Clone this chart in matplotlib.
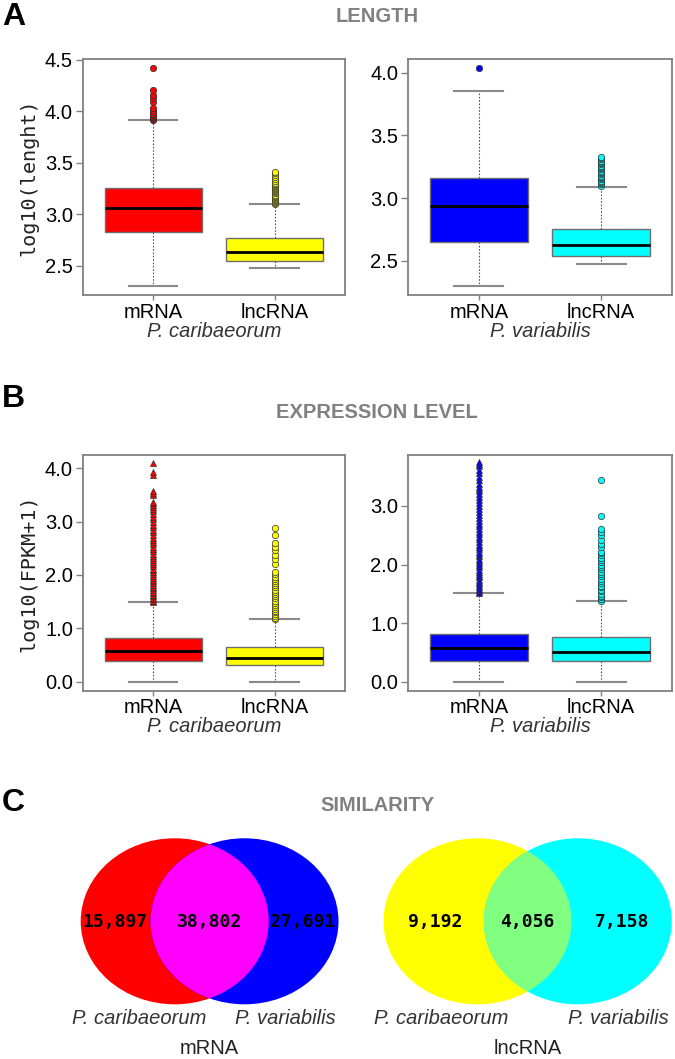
import matplotlib
matplotlib.use('Agg')
import matplotlib.pyplot as plt
from matplotlib.patches import Ellipse
from matplotlib.ticker import FormatStrFormatter, FixedLocator

plt.rcParams['font.family'] = ['Liberation Sans', 'DejaVu Sans']

# ---------------- data ----------------
categories = ['mRNA', 'lncRNA']
species = ['P. caribaeorum', 'P. variabilis']

# LENGTH  (log10 length)  [mRNA, lncRNA]
len_pc_whislo = [2.30, 2.48]
len_pc_q1 = [2.823, 2.542]
len_pc_med = [3.056, 2.636]
len_pc_q3 = [3.255, 2.765]
len_pc_whishi = [3.91, 3.097]
len_pc_mrna_fliers = [3.91, 3.92, 3.93, 3.94, 3.95, 3.96, 3.97, 3.99, 4.01, 4.03,
                      4.09, 4.13, 4.16, 4.20, 4.42]
len_pc_lnc_fliers = [3.10, 3.11, 3.12, 3.13, 3.14, 3.15, 3.16, 3.17, 3.18, 3.19,
                     3.20, 3.21, 3.22, 3.23, 3.24, 3.25, 3.26, 3.27, 3.28, 3.29,
                     3.30, 3.32, 3.34, 3.36, 3.38, 3.40, 3.41]

len_pv_whislo = [2.30, 2.476]
len_pv_q1 = [2.654, 2.537]
len_pv_med = [2.938, 2.627]
len_pv_q3 = [3.158, 2.757]
len_pv_whishi = [3.856, 3.092]
len_pv_mrna_fliers = [4.037]
len_pv_lnc_fliers = [3.10, 3.11, 3.12, 3.13, 3.14, 3.15, 3.16, 3.17, 3.18, 3.19,
                     3.20, 3.21, 3.22, 3.23, 3.24, 3.25, 3.26, 3.27, 3.28, 3.29,
                     3.30, 3.31, 3.32, 3.33]

# EXPRESSION LEVEL  (log10(FPKM+1))
exp_pc_whislo = [0.0, 0.0]
exp_pc_q1 = [0.387, 0.306]
exp_pc_med = [0.579, 0.437]
exp_pc_q3 = [0.822, 0.654]
exp_pc_whishi = [1.495, 1.172]
exp_pc_mrna_fliers = [1.50, 1.52, 1.55, 1.57, 1.60, 1.63, 1.66, 1.69, 1.72, 1.75,
                      1.78, 1.81, 1.85, 1.88, 1.91, 1.95, 1.98, 2.02, 2.05, 2.09,
                      2.12, 2.16, 2.20, 2.24, 2.28, 2.32, 2.36, 2.40, 2.44, 2.48,
                      2.52, 2.57, 2.61, 2.66, 2.70, 2.75, 2.80, 2.85, 2.89, 2.94,
                      2.99, 3.04, 3.09, 3.14, 3.19, 3.23, 3.27, 3.31, 3.35, 3.37,
                      3.50, 3.54, 3.57, 3.87, 3.92, 4.09]
exp_pc_lnc_fliers = [1.17, 1.20, 1.23, 1.26, 1.30, 1.33, 1.37, 1.40, 1.44, 1.48,
                     1.52, 1.56, 1.60, 1.64, 1.68, 1.72, 1.77, 1.81, 1.85, 1.89,
                     1.93, 1.97, 2.01, 2.05, 2.21, 2.29, 2.37, 2.46, 2.52, 2.60,
                     2.75, 2.87]

exp_pv_whislo = [0.0, 0.0]
exp_pv_q1 = [0.358, 0.358]
exp_pv_med = [0.570, 0.512]
exp_pv_q3 = [0.814, 0.763]
exp_pv_whishi = [1.508, 1.382]
exp_pv_mrna_fliers = [1.51, 1.53, 1.56, 1.59, 1.62, 1.65, 1.68, 1.71, 1.74, 1.78,
                      1.81, 1.84, 1.88, 1.91, 1.95, 1.99, 2.02, 2.06, 2.10, 2.14,
                      2.18, 2.22, 2.26, 2.30, 2.34, 2.38, 2.43, 2.47, 2.52, 2.56,
                      2.61, 2.65, 2.70, 2.75, 2.80, 2.85, 2.90, 2.95, 3.00, 3.05,
                      3.10, 3.15, 3.20, 3.25, 3.29, 3.33, 3.38, 3.44, 3.50, 3.56,
                      3.62, 3.68, 3.72, 3.75]
exp_pv_lnc_fliers = [1.38, 1.41, 1.44, 1.47, 1.50, 1.54, 1.57, 1.61, 1.64, 1.68,
                     1.72, 1.76, 1.80, 1.84, 1.88, 1.92, 1.96, 2.00, 2.04, 2.08,
                     2.12, 2.16, 2.19, 2.21, 2.30, 2.35, 2.42, 2.50, 2.55, 2.61,
                     2.83, 3.45]

# SIMILARITY (Venn counts) [only sp1, shared, only sp2]
venn_mrna = [15897, 38802, 27691]
venn_lnc = [9192, 4056, 7158]

# y ticks
len_pc_yticks = [2.5, 3.0, 3.5, 4.0, 4.5]
len_pv_yticks = [2.5, 3.0, 3.5, 4.0]
exp_pc_yticks = [0.0, 1.0, 2.0, 3.0, 4.0]
exp_pv_yticks = [0.0, 1.0, 2.0, 3.0]

# ---------------- styling ----------------
W, H = 675, 1059
fig = plt.figure(figsize=(W / 100, H / 100), dpi=100)

mono = ['DejaVu Sans Mono']
GRAY = '#808080'
FS = 14.5


def px_axes(x0, y0, x1, y1):
    return fig.add_axes([x0 / W, 1 - y1 / H, (x1 - x0) / W, (y1 - y0) / H])


def boxpanel(ax, whislo, q1, med, q3, whishi, fliers, fills, markers, yticks, xlab, ylab=None):
    stats = []
    for i in range(2):
        stats.append(dict(whislo=whislo[i], q1=q1[i], med=med[i], q3=q3[i],
                          whishi=whishi[i], fliers=fliers[i]))
    bp = ax.bxp(stats, positions=[1, 2], widths=0.8, capwidths=0.4, patch_artist=True,
                boxprops=dict(edgecolor='#6e6e6e', linewidth=1.0),
                whiskerprops=dict(color='#555555', linewidth=0.8, linestyle=(0, (1.5, 1.5))),
                capprops=dict(color='#8a8a8a', linewidth=1.5),
                medianprops=dict(color='black', linewidth=2.0),
                flierprops=dict(marker='o'))
    for patch, c in zip(bp['boxes'], fills):
        patch.set_facecolor(c)
    for fl, c, m in zip(bp['fliers'], fills, markers):
        fl.set_marker(m)
        fl.set_markerfacecolor(c)
        fl.set_markeredgecolor('#303030')
        fl.set_markeredgewidth(0.5)
        fl.set_markersize(4.6)
    ax.set_xlim(0.42, 2.58)
    ax.yaxis.set_major_locator(FixedLocator(yticks))
    ax.yaxis.set_major_formatter(FormatStrFormatter('%.1f'))
    ax.set_xticks([1, 2])
    ax.set_xticklabels(categories)
    ax.tick_params(axis='both', labelsize=FS, color=GRAY, length=5, width=1.0, pad=2)
    ax.tick_params(axis='x', length=3.5, pad=2)
    for s in ax.spines.values():
        s.set_color(GRAY)
        s.set_linewidth(1.3)
    ax.set_xlabel(xlab, fontsize=FS, style='italic', color='#333333', labelpad=0)
    if ylab:
        ax.set_ylabel(ylab, fontsize=FS, family=mono, color='#222222', labelpad=5)


# Panel A
axA1 = px_axes(82.7, 59, 345, 295)
boxpanel(axA1, len_pc_whislo, len_pc_q1, len_pc_med, len_pc_q3, len_pc_whishi,
         [len_pc_mrna_fliers, len_pc_lnc_fliers], ['#FF0000', '#FFFF00'], ['o', 'o'],
         len_pc_yticks, species[0], 'log10(lenght)')
axA1.set_ylim(2.215, 4.505)

axA2 = px_axes(408, 59.3, 672, 295)
boxpanel(axA2, len_pv_whislo, len_pv_q1, len_pv_med, len_pv_q3, len_pv_whishi,
         [len_pv_mrna_fliers, len_pv_lnc_fliers], ['#0000FF', '#00FFFF'], ['o', 'o'],
         len_pv_yticks, species[1])
axA2.set_ylim(2.229, 4.107)

# Panel B
axB1 = px_axes(82.7, 454.7, 345, 690.7)
boxpanel(axB1, exp_pc_whislo, exp_pc_q1, exp_pc_med, exp_pc_q3, exp_pc_whishi,
         [exp_pc_mrna_fliers, exp_pc_lnc_fliers], ['#FF0000', '#FFFF00'], ['^', 'o'],
         exp_pc_yticks, species[0], 'log10(FPKM+1)')
axB1.set_ylim(-0.166, 4.25)

axB2 = px_axes(408, 454.7, 672, 690.7)
boxpanel(axB2, exp_pv_whislo, exp_pv_q1, exp_pv_med, exp_pv_q3, exp_pv_whishi,
         [exp_pv_mrna_fliers, exp_pv_lnc_fliers], ['#0000FF', '#00FFFF'], ['^', 'o'],
         exp_pv_yticks, species[1])
axB2.set_ylim(-0.154, 3.876)

# Titles and letters
for txt, y in [('LENGTH', 17), ('EXPRESSION LEVEL', 413), ('SIMILARITY', 805.5)]:
    fig.text(377 / W, 1 - y / H, txt, ha='center', va='center', fontsize=14.5,
             fontweight='bold', color=GRAY)
for txt, y in [('A', 17), ('B', 398.7), ('C', 803)]:
    fig.text(2 / W, 1 - y / H, txt, ha='left', va='center', fontsize=23,
             fontweight='bold', color='black')

# Panel C : Venn diagrams on a pixel-space axes
axV = fig.add_axes([0, 0, 1, 1], zorder=-1)
axV.set_xlim(0, W)
axV.set_ylim(H, 0)
axV.axis('off')


def venn(cx1, cx2, cy, counts, c1, c2, cmix, group, num_x):
    e1 = Ellipse((cx1, cy), 188, 166, facecolor=c1, edgecolor='none')
    e2 = Ellipse((cx2, cy), 188, 166, facecolor=c2, edgecolor='none')
    axV.add_patch(e1)
    axV.add_patch(e2)
    e3 = Ellipse((cx1, cy), 188, 166, facecolor=cmix, edgecolor='none')
    axV.add_patch(e3)
    e3.set_clip_path(e2)
    for x, n in zip(num_x, counts):
        axV.text(x, cy + 0.5, f'{n:,}', ha='center', va='center', family=mono,
                 fontweight='bold', fontsize=13, color='black')
    axV.text(cx1 - 36, 1018, species[0], ha='center', va='center', fontsize=FS,
             style='italic', color='#333333')
    axV.text(cx2 + 41, 1018, species[1], ha='center', va='center', fontsize=FS,
             style='italic', color='#333333')
    axV.text((cx1 + cx2) / 2, 1049, group, ha='center', va='center', fontsize=FS,
             color='#222222')


venn(174.7, 244.5, 921.3, venn_mrna, '#FF0000', '#0000FF', '#FF00FF', categories[0],
     [114.7, 209.7, 302.7])
venn(477.5, 577.8, 921.3, venn_lnc, '#FFFF00', '#00FFFF', '#80FF80', categories[1],
     [435.5, 527, 621.7])

fig.savefig('out.png', dpi=100)
